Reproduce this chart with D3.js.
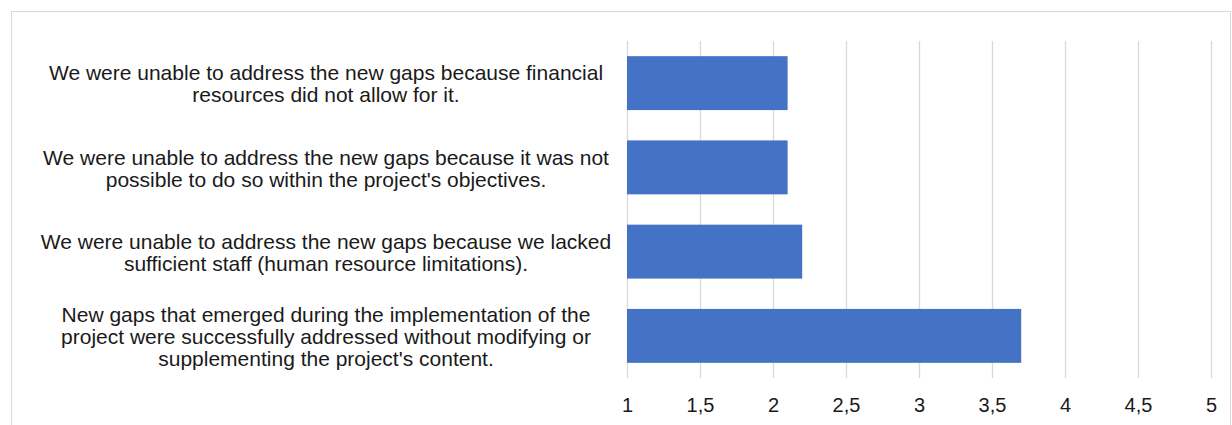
<!DOCTYPE html>
<html>
<head>
<meta charset="utf-8">
<script src="https://cdn.jsdelivr.net/npm/d3@7"></script>
<style>
  html, body { margin: 0; padding: 0; background: #fff; }
  svg { display: block; }
  text { font-family: "Liberation Sans", Arial, sans-serif; }
</style>
</head>
<body>
<svg id="chart" width="1232" height="425"></svg>
<script>
// Response categories (top to bottom), each wrapped into display lines
const categories = [
  ["We were unable to address the new gaps because financial",
   "resources did not allow for it."],
  ["We were unable to address the new gaps because it was not",
   "possible to do so within the project's objectives."],
  ["We were unable to address the new gaps because we lacked",
   "sufficient staff (human resource limitations)."],
  ["New gaps that emerged during the implementation of the",
   "project were successfully addressed without modifying or",
   "supplementing the project's content."]
];
const values = [2.1, 2.1, 2.2, 3.7];
const tickValues = [1, 1.5, 2, 2.5, 3, 3.5, 4, 4.5, 5];

const svg = d3.select("#chart");
const plot = { left: 627, right: 1211, top: 41, bottom: 378 };

// Chart frame
svg.append("rect")
  .attr("x", 11.5).attr("y", 11.5)
  .attr("width", 1219).attr("height", 430)
  .attr("fill", "none").attr("stroke", "#d9d9d9").attr("stroke-width", 1);

const x = d3.scaleLinear().domain([1, 5]).range([plot.left, plot.right]);
const y = d3.scaleBand()
  .domain(d3.range(categories.length))
  .range([plot.top, plot.bottom])
  .paddingInner(0.36).paddingOuter(0.18);

// Vertical gridlines
svg.append("g").selectAll("line")
  .data(tickValues).join("line")
  .attr("x1", d => Math.round(x(d)) + 0.5).attr("x2", d => Math.round(x(d)) + 0.5)
  .attr("y1", plot.top).attr("y2", plot.bottom)
  .attr("stroke", "#d9d9d9").attr("stroke-width", 1.3);

// Bars
svg.append("g").selectAll("rect")
  .data(values).join("rect")
  .attr("x", x(1))
  .attr("y", (d, i) => y(i))
  .attr("width", d => x(d) - x(1))
  .attr("height", y.bandwidth())
  .attr("fill", "#4472c4");

// X axis tick labels (comma decimal separator)
const fmt = d => String(d).replace(".", ",");
const xAxis = d3.axisBottom(x).tickValues(tickValues).tickFormat(fmt).tickSize(0).tickPadding(0);
const gx = svg.append("g").attr("transform", `translate(0, ${plot.bottom})`).call(xAxis);
gx.select(".domain").remove();
gx.selectAll("text")
  .attr("y", 34).attr("dy", null)
  .attr("font-size", 20).attr("fill", "#1a1a1a")
  .style("font-family", "'Liberation Sans', Arial, sans-serif");

// Category labels, centered in the label column
const lineH = 22;
const labels = svg.append("g").selectAll("text")
  .data(categories).join("text")
  .attr("text-anchor", "middle")
  .attr("font-size", 21).attr("fill", "#1a1a1a")
  .attr("transform", (d, i) => {
    const cy = y(i) + y.bandwidth() / 2 - (d.length - 1) * lineH / 2 + 1;
    return `translate(326, ${cy})`;
  });
labels.selectAll("tspan")
  .data(d => d).join("tspan")
  .attr("x", 0)
  .attr("y", (d, j) => j * lineH)
  .attr("dy", "0.35em")
  .text(d => d);
</script>
</body>
</html>
